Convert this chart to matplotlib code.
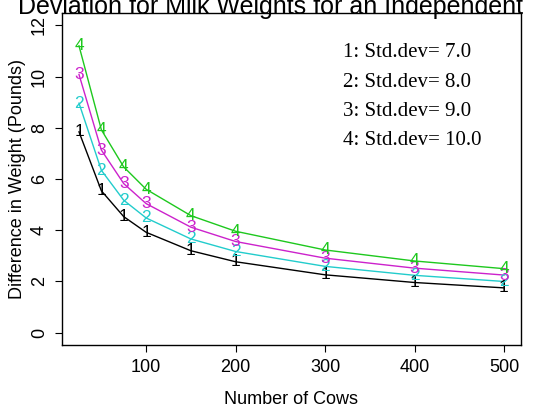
import matplotlib.pyplot as plt

# number of cows in the sample
cows = [25, 50, 75, 100, 150, 200, 300, 400, 500]

# detectable difference in weight (pounds) for each standard deviation
diff_sd7 = [7.84, 5.54, 4.53, 3.92, 3.20, 2.77, 2.26, 1.96, 1.75]
diff_sd8 = [8.96, 6.34, 5.17, 4.48, 3.66, 3.17, 2.59, 2.24, 2.00]
diff_sd9 = [10.08, 7.13, 5.82, 5.04, 4.12, 3.56, 2.91, 2.52, 2.25]
diff_sd10 = [11.20, 7.92, 6.47, 5.60, 4.57, 3.96, 3.23, 2.80, 2.50]

series = [diff_sd7, diff_sd8, diff_sd9, diff_sd10]
std_devs = ["7.0", "8.0", "9.0", "10.0"]
colors = ["black", "#22cccc", "#cc22cc", "#1ec81e"]

plt.rcParams['font.family'] = ['Liberation Sans', 'DejaVu Sans']

fig = plt.figure(figsize=(5.33, 4.09), dpi=100)
ax = fig.add_axes((62 / 533, 1 - 345 / 409, 459 / 533, 332 / 409))

for k, (vals, col) in enumerate(zip(series, colors)):
    ax.plot(cows, vals, color=col, lw=1)
    for x, y in zip(cows, vals):
        ax.text(x, y, str(k + 1), color=col, fontsize=12.5,
                ha="center", va="center")

ax.set_xlim(6, 519)
ax.set_ylim(-0.48, 12.48)
ax.set_xticks([100, 200, 300, 400, 500])
ax.set_yticks([0, 2, 4, 6, 8, 10, 12])
ax.set_yticklabels(["0", "2", "4", "6", "8", "10", "12"], rotation=90, va="center")
ax.tick_params(labelsize=13, length=5, width=0.8, pad=5)
for s in ax.spines.values():
    s.set_linewidth(1)

ax.set_xlabel("Number of Cows", fontsize=13, labelpad=11)
ax.set_ylabel("Difference in Weight (Pounds)", fontsize=13, labelpad=4)

# legend written as plain text lines
for k, sd in enumerate(std_devs):
    ax.text(0.612, 0.88 - k * 0.088, "%d: Std.dev= %s" % (k + 1, sd),
            transform=ax.transAxes, fontsize=15,
            fontname="Liberation Serif", va="center", ha="left")

fig.text(271 / 533, 1 - 14 / 409, "Deviation for Milk Weights for an Independent",
         ha="center", va="baseline", fontsize=18)

fig.savefig("out.png", dpi=100)
